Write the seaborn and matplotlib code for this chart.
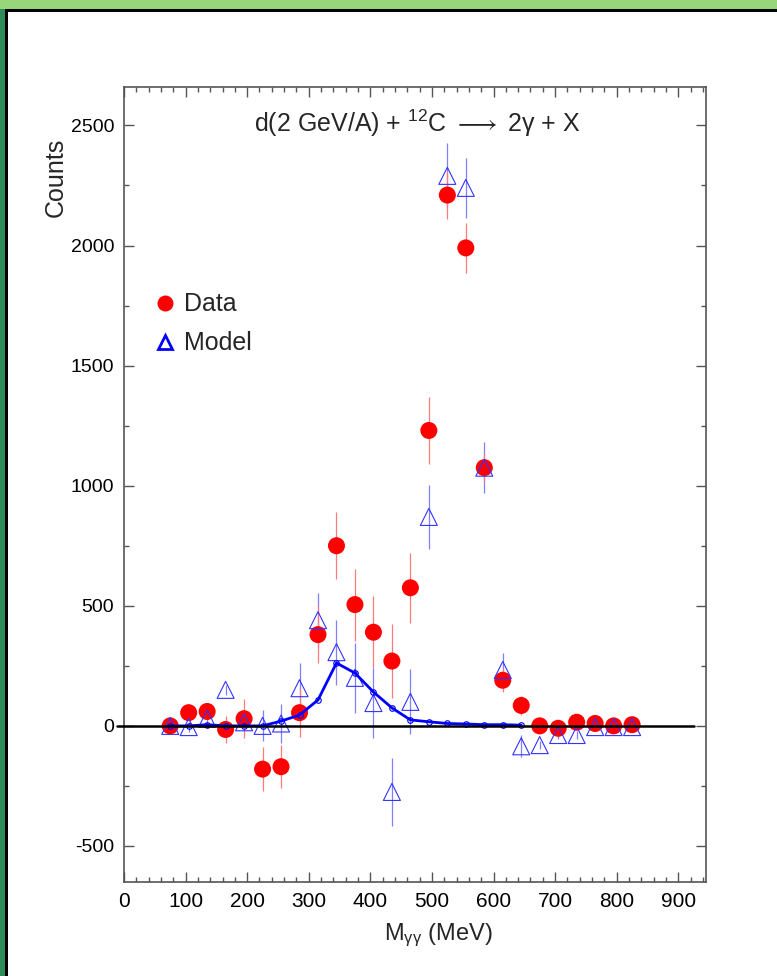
import numpy as np
import pandas as pd
import matplotlib
matplotlib.use("Agg")
import matplotlib.pyplot as plt
from matplotlib.patches import Rectangle
from matplotlib.lines import Line2D
import seaborn as sns

# ---------------- data ----------------
mass = [75, 105, 135, 165, 195, 225, 255, 285, 315, 345, 375, 405, 435,
        465, 495, 525, 555, 585, 615, 645, 675, 705, 735, 765, 795, 825]
data_counts = [0, 55, 60, -15, 30, -180, -170, 55, 380, 750, 505, 390, 270,
               575, 1230, 2210, 1990, 1075, 190, 85, 0, -10, 15, 10, 0, 5]
data_err = [20, 30, 30, 55, 80, 90, 90, 100, 120, 140, 150, 150, 155,
            145, 140, 100, 105, 60, 50, 38, 15, 15, 15, 15, 15, 15]
model_counts = [0, -5, 30, 150, 15, 0, 10, 157, 440, 307, 200, 95, -275,
                100, 870, 2290, 2240, 1075, 233, -85, -80, -38, -38, -5, -5, -5]
model_err = [20, 20, 25, 20, 25, 65, 80, 105, 115, 135, 145, 145, 142,
             135, 133, 135, 125, 105, 70, 45, 15, 15, 15, 10, 10, 10]
curve_mass = [75, 105, 135, 165, 195, 225, 255, 285, 315, 345, 375, 405, 435,
              465, 495, 525, 555, 585, 615, 645]
curve_counts = [0, 0, 5, 0, 0, 0, 20, 45, 108, 262, 220, 141, 75,
                25, 17, 10, 8, 5, 5, 3]

x_ticks = [0, 100, 200, 300, 400, 500, 600, 700, 800, 900]
y_ticks = [-500, 0, 500, 1000, 1500, 2000, 2500]

df_data = pd.DataFrame({"mass": mass, "counts": data_counts, "err": data_err})
df_model = pd.DataFrame({"mass": mass, "counts": model_counts, "err": model_err})
df_curve = pd.DataFrame({"mass": curve_mass, "counts": curve_counts})

# ---------------- style ----------------
sns.set_theme(style="ticks")
plt.rcParams["font.family"] = ["Liberation Sans", "DejaVu Sans"]
plt.rcParams["mathtext.fontset"] = "custom"
plt.rcParams["mathtext.rm"] = "Liberation Sans"
plt.rcParams["mathtext.it"] = "Liberation Sans:italic"
plt.rcParams["mathtext.bf"] = "Liberation Sans:bold"
plt.rcParams["mathtext.fallback"] = "stixsans"

fig = plt.figure(figsize=(7.77, 9.76), dpi=100)
fig.patch.set_facecolor("white")

# frame decoration
fig.add_artist(Rectangle((0, 967 / 976), 1, 9 / 976, transform=fig.transFigure,
                         facecolor="#97d67b", edgecolor="none", zorder=0))
fig.add_artist(Rectangle((0, 0), 5 / 777, 967 / 976, transform=fig.transFigure,
                         facecolor="#2e8b5a", edgecolor="none", zorder=0))
fig.add_artist(Rectangle((5 / 777, 0), 3 / 777, 967 / 976, transform=fig.transFigure,
                         facecolor="black", edgecolor="none", zorder=1))
fig.add_artist(Rectangle((5 / 777, 964 / 976), 1, 3 / 976, transform=fig.transFigure,
                         facecolor="black", edgecolor="none", zorder=1))

ax = fig.add_axes([124 / 777, 94 / 976, 582 / 777, 795 / 976])
ax.set_facecolor("white")

RED = "#ff0000"
BLUE = "#0000ff"

# error bars
ax.errorbar(df_model["mass"], df_model["counts"], yerr=df_model["err"], fmt="none",
            ecolor="#7f7fff", elinewidth=0.9, capsize=0, zorder=2)
ax.errorbar(df_data["mass"], df_data["counts"], yerr=df_data["err"], fmt="none",
            ecolor="#ff7a7a", elinewidth=0.9, capsize=0, zorder=2)

sns.scatterplot(data=df_data, x="mass", y="counts", ax=ax, color=RED, marker="o",
                s=150, edgecolor="none", zorder=3, legend=False)
sns.scatterplot(data=df_model, x="mass", y="counts", ax=ax, marker="^",
                s=150, facecolor="none", edgecolor="#3333ff", linewidth=0.8,
                zorder=4, legend=False)
sns.lineplot(data=df_curve, x="mass", y="counts", ax=ax, color=BLUE, lw=2.0,
             marker="o", markersize=4, markerfacecolor="none",
             markeredgecolor=BLUE, markeredgewidth=0.8, zorder=5)

ax.plot([-11, 925], [0, 0], color="black", lw=1.8, zorder=6, clip_on=False)

ax.set_xlim(0, 945)
ax.set_ylim(-650, 2660)
ax.set_xticks(x_ticks)
ax.set_xticklabels([str(v) for v in x_ticks])
ax.set_yticks(y_ticks)
ax.set_yticklabels([str(v) for v in y_ticks])
ax.xaxis.set_minor_locator(matplotlib.ticker.MultipleLocator(20))
ax.yaxis.set_minor_locator(matplotlib.ticker.MultipleLocator(250))
ax.tick_params(which="both", direction="in", top=True, right=True,
               color="#555555", width=1.0)
ax.tick_params(which="major", length=7.5, pad=7, labelcolor="black")
ax.tick_params(axis="x", which="major", labelsize=15)
ax.tick_params(axis="y", which="major", labelsize=14)
ax.tick_params(which="minor", length=3.5)
for s in ax.spines.values():
    s.set_color("#555555")
    s.set_linewidth(1.2)

ax.set_xlabel("M$_{\\mathrm{γγ}}$ (MeV)", fontsize=17)
ax.set_ylabel("Counts", fontsize=18)
ax.xaxis.set_label_coords(0.540, -0.050)
ax.yaxis.set_label_coords(-0.097, 0.886)

ax.text(476, 2510, "d(2 GeV/A) + $^{12}$C $\\longrightarrow$ 2γ + X", fontsize=18,
        ha="center", va="center")

handles = [Line2D([], [], ls="none", marker="o", color=RED, markersize=11.5,
                  markeredgecolor="none"),
           Line2D([], [], ls="none", marker="^", markerfacecolor="none",
                  markeredgecolor=BLUE, markeredgewidth=2, markersize=10)]
ax.legend(handles, ["Data", "Model"], loc="upper left", frameon=False,
          bbox_to_anchor=(0.01, 0.77), handlelength=1.0, handletextpad=0.25,
          labelspacing=0.6, fontsize=18)

sns.despine(ax=ax, top=False, right=False)
fig.savefig("out.png", dpi=100)
